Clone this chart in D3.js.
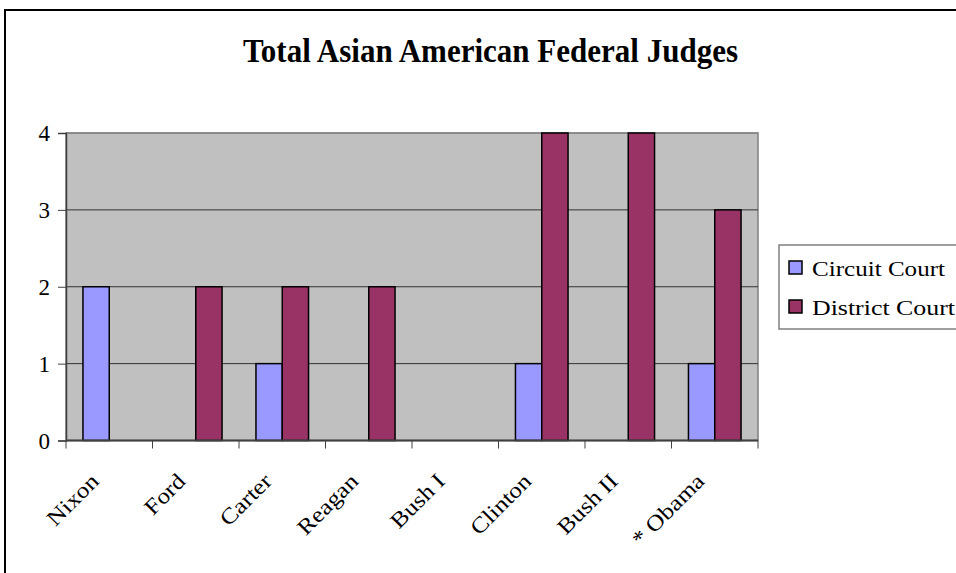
<!DOCTYPE html>
<html>
<head>
<meta charset="utf-8">
<script src="https://cdn.jsdelivr.net/npm/d3@7.9.0/dist/d3.min.js"></script>
<style>
  body { margin: 0; background: #fff; }
  svg { display: block; font-family: "Liberation Serif", "Times New Roman", serif; }
</style>
</head>
<body>
<svg id="chart" width="956" height="573"></svg>
<script>
// data
const presidents = ["Nixon", "Ford", "Carter", "Reagan", "Bush I", "Clinton", "Bush II", "* Obama"];
const seriesNames = ["Circuit Court", "District Court"];
const circuitCourt = [2, 0, 1, 0, 0, 1, 0, 1];
const districtCourt = [0, 2, 2, 2, 0, 4, 4, 3];
const yTicks = [0, 1, 2, 3, 4];
const colors = ["#9999FF", "#993366"];

const svg = d3.select("#chart");
const plot = { left: 66, right: 758, top: 133, bottom: 440.5 };

// outer chart border
svg.append("rect")
  .attr("x", 5).attr("y", 10).attr("width", 1000).attr("height", 600)
  .attr("fill", "none").attr("stroke", "#000").attr("stroke-width", 2);

// title
svg.append("text")
  .attr("x", 490.5).attr("y", 62)
  .attr("text-anchor", "middle")
  .attr("font-weight", "bold").style("font-size", "34px")
  .attr("textLength", 495).attr("lengthAdjust", "spacingAndGlyphs")
  .text("Total Asian American Federal Judges");

let x0 = d3.scaleBand().domain(presidents).range([plot.left, plot.right]);
let x1 = d3.scaleBand().domain(seriesNames).range([0, x0.bandwidth()]).paddingInner(0).paddingOuter(0.645);
let y = d3.scaleLinear().domain([0, 4]).range([plot.bottom, plot.top]);

// plot area
svg.append("rect")
  .attr("x", plot.left).attr("y", plot.top)
  .attr("width", plot.right - plot.left).attr("height", plot.bottom - plot.top)
  .attr("fill", "#C0C0C0").attr("stroke", "#808080").attr("stroke-width", 1.5);

// gridlines
svg.append("g").selectAll("line")
  .data(yTicks.slice(1))
  .join("line")
  .attr("x1", plot.left).attr("x2", plot.right)
  .attr("y1", d => y(d)).attr("y2", d => y(d))
  .attr("stroke", d => d === 4 ? "#808080" : "#333").attr("stroke-width", 1);

// bars
let rows = presidents.map((p, i) => ({ p, vals: [circuitCourt[i], districtCourt[i]] }));
let groups = svg.append("g").selectAll("g")
  .data(rows)
  .join("g")
  .attr("transform", d => `translate(${x0(d.p)},0)`);
groups.selectAll("rect")
  .data(d => d.vals.map((v, k) => ({ v, k })).filter(e => e.v > 0))
  .join("rect")
  .attr("x", e => x1(seriesNames[e.k]))
  .attr("width", x1.bandwidth())
  .attr("y", e => y(e.v))
  .attr("height", e => y(0) - y(e.v))
  .attr("fill", e => colors[e.k])
  .attr("stroke", "#000").attr("stroke-width", 1.5);

// y axis
let yAxis = svg.append("g")
  .attr("transform", `translate(${plot.left},0)`)
  .call(d3.axisLeft(y).tickValues(yTicks).tickSize(8).tickPadding(8).tickFormat(d3.format("d")));
yAxis.select(".domain").attr("stroke", "#404040").attr("stroke-width", 1.5);
yAxis.selectAll(".tick line").attr("stroke", "#404040");
yAxis.selectAll(".tick text")
  .style("font-size", "23px").style("font-family", "'Liberation Serif', serif")
  .attr("fill", "#000").attr("dy", "0.34em");

// x axis
let bounds = presidents.map(p => x0(p)).concat([plot.right]);
let xg = svg.append("g");
xg.append("line")
  .attr("x1", plot.left).attr("x2", plot.right)
  .attr("y1", plot.bottom).attr("y2", plot.bottom)
  .attr("stroke", "#404040").attr("stroke-width", 2);
xg.selectAll("line.tk")
  .data(bounds)
  .join("line").attr("class", "tk")
  .attr("x1", d => d).attr("x2", d => d)
  .attr("y1", plot.bottom).attr("y2", plot.bottom + 8)
  .attr("stroke", "#404040");
let labels = xg.selectAll("text")
  .data(presidents)
  .join("text")
  .attr("transform", d => `translate(${x0(d) + x0.bandwidth() / 2 - 9},${plot.bottom + 42}) rotate(-45)`)
  .attr("text-anchor", "end")
  .style("font-size", "22px")
  .text(d => d);
labels.each(function () {
  let w = this.getComputedTextLength();
  d3.select(this).attr("textLength", w * 1.15).attr("lengthAdjust", "spacingAndGlyphs");
});

// legend
let lg = svg.append("g");
lg.append("rect")
  .attr("x", 779).attr("y", 245).attr("width", 300).attr("height", 84)
  .attr("fill", "#fff").attr("stroke", "#808080").attr("stroke-width", 1.5);
seriesNames.forEach((s, i) => {
  lg.append("rect")
    .attr("x", 789).attr("y", 261 + i * 39).attr("width", 13).attr("height", 13)
    .attr("fill", colors[i]).attr("stroke", "#000").attr("stroke-width", 1.5);
  lg.append("text")
    .attr("x", 812).attr("y", 276 + i * 39)
    .style("font-size", "22px")
    .attr("textLength", i === 0 ? 133 : 143).attr("lengthAdjust", "spacingAndGlyphs")
    .text(s);
});
</script>
</body>
</html>
